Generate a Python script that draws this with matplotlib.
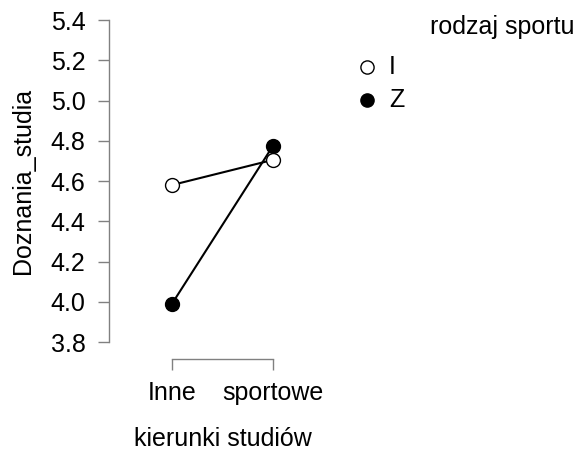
import matplotlib
matplotlib.use("Agg")
import matplotlib.pyplot as plt
from matplotlib.lines import Line2D

plt.rcParams['font.family'] = ['Liberation Sans', 'DejaVu Sans']

categories = ["Inne", "sportowe"]
groups = ["I", "Z"]
means = {
    "I": [4.58, 4.705],
    "Z": [3.99, 4.775],
}
yticks = [3.8, 4.0, 4.2, 4.4, 4.6, 4.8, 5.0, 5.2, 5.4]

FS = 18
W, H = 580, 450
fig = plt.figure(figsize=(W / 100, H / 100), dpi=100)

# axes box in pixel coordinates
left, right, top, bottom = 109, 340, 20, 359
ax = fig.add_axes([left / W, 1 - bottom / H, (right - left) / W, (bottom - top) / H])

x = list(range(len(categories)))
styles = {"I": dict(markerfacecolor="white"), "Z": dict(markerfacecolor="black")}
for g in ["Z", "I"]:
    ax.plot(x, means[g], color="black", lw=1.5, marker="o", markersize=10,
            markeredgecolor="black", markeredgewidth=1.0, zorder=3, **styles[g])

# y: 5.4 at top px, 3.8 at 342 px
px_per_unit = (342 - top) / (5.4 - 3.8)
ax.set_ylim(3.8 - (bottom - 342) / px_per_unit, 5.4)
# x: categories at 172 and 273 px
px_per_cat = 273 - 172
ax.set_xlim(-(172 - left) / px_per_cat, (right - 172) / px_per_cat)

ax.set_yticks(yticks)
ax.set_yticklabels([f"{v:.1f}" for v in yticks])
ax.set_xticks(x)
ax.set_xticklabels(categories)

spine_col = "#808080"
for s in ["top", "right"]:
    ax.spines[s].set_visible(False)
ax.spines["left"].set_bounds(3.8, 5.4)
ax.spines["bottom"].set_bounds(0, 1)
for s in ["left", "bottom"]:
    ax.spines[s].set_color(spine_col)
    ax.spines[s].set_linewidth(1.0)
ax.tick_params(axis="both", colors=spine_col, labelcolor="black", labelsize=FS,
               length=8, width=1.0)
ax.tick_params(axis="y", pad=9)
ax.tick_params(axis="x", pad=8)

ax.set_ylabel("Doznania_studia", fontsize=FS, labelpad=11)
ax.set_xlabel("kierunki studiów", fontsize=FS, labelpad=16)
# centre the axis titles on the drawn spine ranges
ax.yaxis.label.set_y((bottom - (top + 342) / 2) / (bottom - top))
ax.xaxis.label.set_x(((172 + 273) / 2 - left) / (right - left))

# legend drawn in figure coordinates
fig.text(430 / W, 1 - 27 / H, "rodzaj sportu", fontsize=FS, ha="left", va="center")
for g, py in zip(groups, [67, 100]):
    fig.add_artist(Line2D([367 / W], [1 - py / H], transform=fig.transFigure,
                          marker="o", markersize=9.5, markeredgecolor="black",
                          markeredgewidth=1.0, linestyle="none", **styles[g]))
    fig.text(389 / W, 1 - py / H, g, fontsize=FS, ha="left", va="center")

fig.savefig("out.png", dpi=100)
